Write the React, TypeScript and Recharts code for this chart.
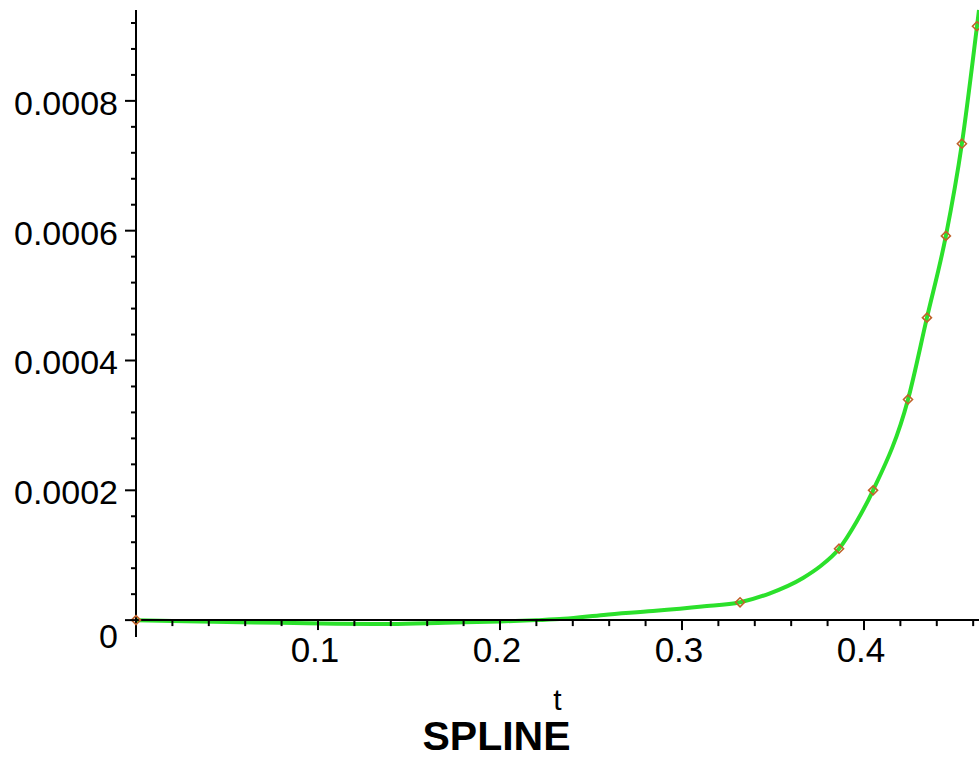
import { ComposedChart, Line, Scatter, XAxis, YAxis, ReferenceLine, Label } from 'recharts';

// Spline curve (t, value)
const curveT = [0, 0.02, 0.05, 0.08, 0.11, 0.14, 0.17, 0.2, 0.22, 0.235, 0.257, 0.284, 0.311, 0.332, 0.348, 0.3665, 0.376, 0.3863, 0.396, 0.405, 0.4242, 0.4346, 0.445, 0.4538, 0.4621, 0.4632];
const curveV = [0, -0.0000015, -0.000003, -0.000004, -0.0000055, -0.000006, -0.000004, -0.000002, 0, 0.000002, 0.000008, 0.000014, 0.000021, 0.0000275, 0.000041, 0.000065, 0.000083, 0.00011, 0.000152, 0.0002, 0.00034, 0.000466, 0.000592, 0.000734, 0.000915, 0.00094];

// Data points (markers)
const pointT = [0, 0.3319, 0.3863, 0.405, 0.4242, 0.4346, 0.445, 0.4538, 0.4621];
const pointV = [0, 0.0000275, 0.00011, 0.0002, 0.00034, 0.000466, 0.000592, 0.000734, 0.000915];

// Axis ticks
const xMajorTicks = [0.1, 0.2, 0.3, 0.4];
const xMajorLabels = ['0.1', '0.2', '0.3', '0.4'];
const xMinorTicks = [0.02, 0.04, 0.06, 0.08, 0.12, 0.14, 0.16, 0.18, 0.22, 0.24, 0.26, 0.28, 0.32, 0.34, 0.36, 0.38, 0.42, 0.44, 0.46];
const yMajorTicks = [0, 0.0002, 0.0004, 0.0006, 0.0008];
const yMajorLabels = ['0', '0.0002', '0.0004', '0.0006', '0.0008'];
const yMinorTicks = [0.00004, 0.00008, 0.00012, 0.00016, 0.00024, 0.00028, 0.00032, 0.00036, 0.00044, 0.00048, 0.00052, 0.00056, 0.00064, 0.00068, 0.00072, 0.00076, 0.00084, 0.00088, 0.00092];

const curveData = curveT.map((t, i) => ({ t, v: curveV[i] }));
const pointData = pointT.map((t, i) => ({ t, v: pointV[i] }));
const yTicks = [...yMajorTicks, ...yMinorTicks].sort((a, b) => a - b);

const FONT = '"Liberation Sans", Arial, sans-serif';
// tick lengths in data units (x ticks are drawn as reference segments below y = 0)
const X_MINOR_LEN = 0.0000092;
const X_MAJOR_LEN = 0.0000153;

const findIdx = (arr: number[], v: number) => arr.findIndex(a => Math.abs(a - v) < 1e-9);

const YTick = (props: any) => {
  const { x, y, payload } = props;
  const idx = findIdx(yMajorTicks, payload.value);
  if (idx < 0) {
    return <line x1={x - 5} x2={x} y1={y} y2={y} stroke="#000" strokeWidth={2} />;
  }
  const isZero = payload.value === 0;
  return (
    <g>
      <line x1={x - 11} x2={x} y1={y} y2={y} stroke="#000" strokeWidth={2} />
      <text x={x - 18} y={y + (isZero ? 28 : 14)} textAnchor="end" fontFamily={FONT} fontSize={34} fill="#000">
        {yMajorLabels[idx]}
      </text>
    </g>
  );
};

const XTick = (props: any) => {
  const { x, y, payload } = props;
  const idx = findIdx(xMajorTicks, payload.value);
  if (idx < 0) return <g />;
  return (
    <text x={x - 3} y={y + 25} textAnchor="middle" fontFamily={FONT} fontSize={35} fill="#000">
      {xMajorLabels[idx]}
    </text>
  );
};

const Marker = (props: any) => {
  const { cx, cy } = props;
  if (cx == null || cy == null) return <g />;
  const r = 4.5;
  return (
    <path
      d={`M${cx},${cy - r} L${cx + r},${cy} L${cx},${cy + r} L${cx - r},${cy} Z`}
      fill="none"
      stroke="#c0622a"
      strokeWidth={1.6}
    />
  );
};

export default function App() {
  return (
    <div style={{ position: 'absolute', left: 0, top: 0, background: '#fff' }}>
      <ComposedChart width={979} height={760} data={curveData} margin={{ top: 10, right: 0, bottom: 0, left: 0 }}>
        <XAxis
          dataKey="t"
          type="number"
          domain={[0, 0.4632]}
          ticks={xMajorTicks}
          interval={0}
          axisLine={false}
          tickLine={false}
          tickSize={0}
          tickMargin={0}
          height={123}
          tick={(p: any) => <XTick {...p} />}
        >
          <Label
            content={({ viewBox }: any) => (
              <text x={viewBox.x + viewBox.width / 2} y={viewBox.y + 73} textAnchor="middle" fontFamily={FONT} fontSize={30} fill="#000">
                t
              </text>
            )}
          />
          <Label
            content={({ viewBox }: any) => (
              <text x={viewBox.x + viewBox.width / 2 - 61} y={viewBox.y + 113} textAnchor="middle" fontFamily={FONT} fontWeight="bold" fontSize={41} fill="#000">
                SPLINE
              </text>
            )}
          />
        </XAxis>
        <YAxis
          type="number"
          domain={[-0.000026, 0.000931]}
          ticks={yTicks}
          interval={0}
          width={136}
          axisLine={{ stroke: '#000', strokeWidth: 2 }}
          tickLine={false}
          tickSize={0}
          tickMargin={0}
          tick={(p: any) => <YTick {...p} />}
        />
        <Line
          dataKey="v"
          type="monotone"
          stroke="#2be02b"
          strokeWidth={4}
          dot={false}
          activeDot={false}
          isAnimationActive={false}
        />
        <ReferenceLine y={0} stroke="#000" strokeWidth={2} />
        {xMinorTicks.map(t => (
          <ReferenceLine key={`mn${t}`} segment={[{ x: t, y: 0 }, { x: t, y: -X_MINOR_LEN }]} stroke="#000" strokeWidth={2} />
        ))}
        {xMajorTicks.map(t => (
          <ReferenceLine key={`mj${t}`} segment={[{ x: t, y: 0 }, { x: t, y: -X_MAJOR_LEN }]} stroke="#000" strokeWidth={2} />
        ))}
        <Scatter data={pointData} dataKey="v" shape={(p: any) => <Marker {...p} />} isAnimationActive={false} />
      </ComposedChart>
    </div>
  );
}
